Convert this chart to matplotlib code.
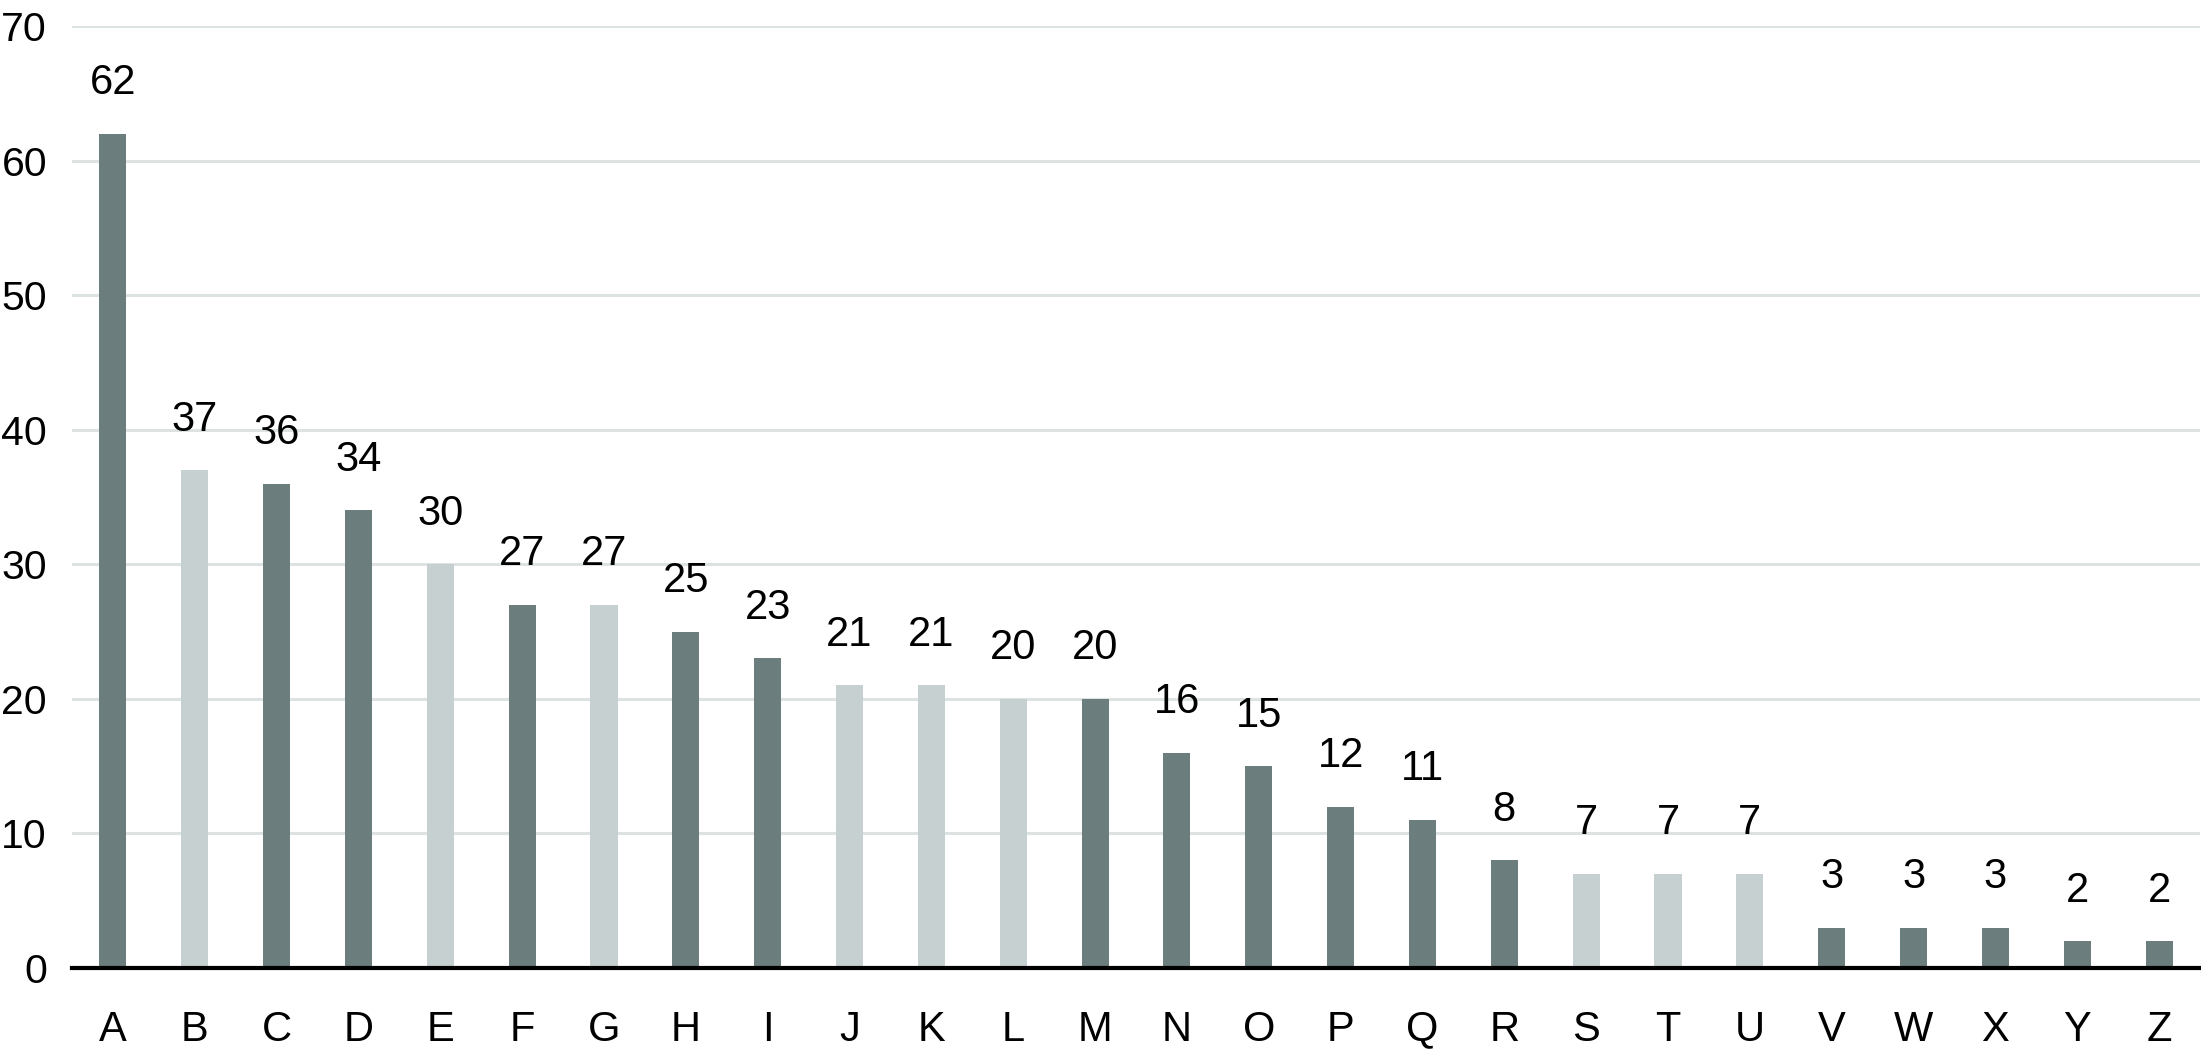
import matplotlib
matplotlib.use("Agg")
import matplotlib.pyplot as plt

categories = list("ABCDEFGHIJKLMNOPQRSTUVWXYZ")
values = [62, 37, 36, 34, 30, 27, 27, 25, 23, 21, 21, 20, 20, 16, 15, 12, 11, 8, 7, 7, 7, 3, 3, 3, 2, 2]
light = ["B", "E", "G", "J", "K", "L", "S", "T", "U"]
yticks = [0, 10, 20, 30, 40, 50, 60, 70]

DARK = "#6b7d7d"
LIGHT = "#c7d0d0"
GRID = "#dce3e2"

plt.rcParams['font.family'] = ['Liberation Sans', 'DejaVu Sans']

fig = plt.figure(figsize=(22.01, 10.56), dpi=100)
ax = fig.add_axes([72/2201, 1-968/1056, (2200-72)/2201, (968-26)/1056])

colors = [LIGHT if c in light else DARK for c in categories]
x = list(range(len(categories)))
bars = ax.bar(x, values, width=0.33, color=colors, zorder=3)
for xi, v in zip(x, values):
    ax.annotate(str(v), (xi, v), xytext=(0, 22), textcoords="offset points",
                ha="center", va="bottom", fontsize=30, color="black")

ax.set_xlim(-0.5, len(categories) - 0.5)
ax.set_ylim(0, 70)
ax.set_yticks(yticks)
ax.set_xticks(x)
ax.set_xticklabels(categories)
ax.grid(axis="y", color=GRID, linewidth=2.2, zorder=0)
ax.set_axisbelow(True)
for s in ["top", "right", "left"]:
    ax.spines[s].set_visible(False)
ax.spines["bottom"].set_linewidth(3)
ax.spines["bottom"].set_color("black")
ax.spines["bottom"].set_zorder(4)
ax.tick_params(axis="both", length=0, labelsize=30)
ax.tick_params(axis="x", pad=30)
ax.tick_params(axis="y", labelsize=29.5, pad=18)

fig.savefig("out.png", dpi=100, facecolor="white")
